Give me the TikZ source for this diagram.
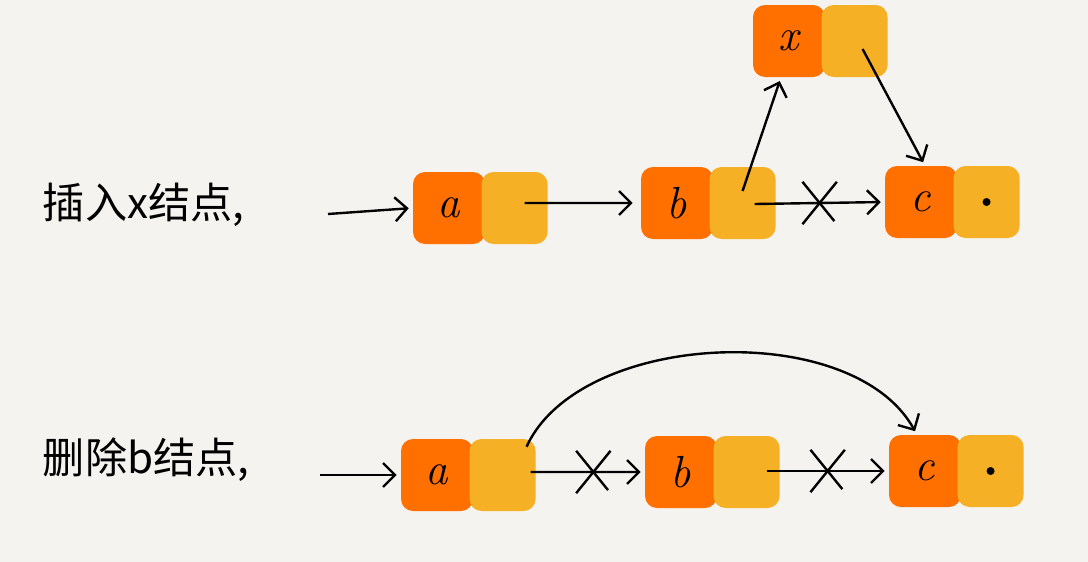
\documentclass[tikz,border=0pt]{standalone}
\usepackage{fontspec}
\usepackage{tikz}
\usetikzlibrary{arrows.meta,positioning,shapes.misc}
\newfontfamily\cjk{Noto Sans CJK SC}
\definecolor{paperbg}{RGB}{244,243,240}
\definecolor{databox}{RGB}{255,112,0}
\definecolor{nextbox}{RGB}{246,176,38}
\tikzset{
  datap/.style={
    fill=databox,
    rounded corners=3mm,
    minimum width=18mm,
    minimum height=18mm,
    inner sep=0pt,
    font=\fontsize{32}{32}\selectfont\itshape
  },
  nextp/.style={
    fill=nextbox,
    rounded corners=3mm,
    minimum width=16.5mm,
    minimum height=18mm,
    inner sep=0pt
  },
  link/.style={-{Straight Barb[length=3mm,width=6mm]}, line width=1.7pt, shorten >=1mm},
  crossx/.style={draw, cross out, line width=1.7pt, minimum width=8mm, minimum height=10mm, inner sep=0pt},
  nullp/.style={circle, fill=black, minimum size=2mm, inner sep=0pt},
  lbl/.style={font=\cjk\fontsize{30}{30}\selectfont, anchor=west}
}
\begin{document}
\begin{tikzpicture}[x=0.25mm, y=-0.25mm, node distance=-1mm]
        \fill[paperbg] (0,0) rectangle (1088,562);
        % insert x after b
        \node[lbl] (ins) at (38,205) {插入x结点,};
        \node[datap] (a) at (449,208) {a};
        \node[nextp, right=of a] (an) {};
        \node[datap] (b) at (677,203) {b};
        \node[nextp, right=of b] (bn) {};
        \node[datap] (c) at (921,202) {c};
        \node[nextp, right=of c] (cn) {};
        \node[nullp] (cnull) at (cn.center) {};
        \node[datap] (x) at (789,41) {x};
        \node[nextp, right=of x] (xn) {};
        \coordinate (ain) at (328,214);
        \draw[link] (ain) -- (a.west);
        \draw[link, shorten >=2mm] ([xshift=2.5mm,yshift=1.25mm]an.center) -- (b.west);
        \draw[link] ([yshift=3mm]bn.center) -- ([xshift=-2mm]x.south);
        \draw[link] ([xshift=2mm,yshift=-2mm]xn.center) -- ([xshift=1mm]c.north);
        \draw[link] ([xshift=3mm,yshift=-0.25mm]bn.center) -- node[crossx] (cut1) {} (c.west);
        % delete b
        \node[lbl] (del) at (38,460) {删除b结点,};
        \node[datap] (a2) at (437,475) {a};
        \node[nextp, right=of a2] (an2) {};
        \node[datap] (b2) at (681,472) {b};
        \node[nextp, right=of b2] (bn2) {};
        \node[datap] (c2) at (925,471) {c};
        \node[nextp, right=of c2] (cn2) {};
        \node[nullp] (cnull2) at (cn2.center) {};
        \coordinate (ain2) at (320,475);
        \draw[link] (ain2) -- (a2.west);
        \draw[link] ([xshift=7mm,yshift=0.75mm]an2.center) -- node[crossx, pos=0.55] (cut2) {} (b2.west);
        \draw[link] ([xshift=5mm,yshift=0.25mm]bn2.center) -- node[crossx] (cut3) {} (c2.west);
        \draw[link] ([xshift=6mm,yshift=-2mm]an2.north) .. controls +(53,-116) and +(-65,-117) .. ([xshift=-2mm]c2.north);
      \end{tikzpicture}
\end{document}
